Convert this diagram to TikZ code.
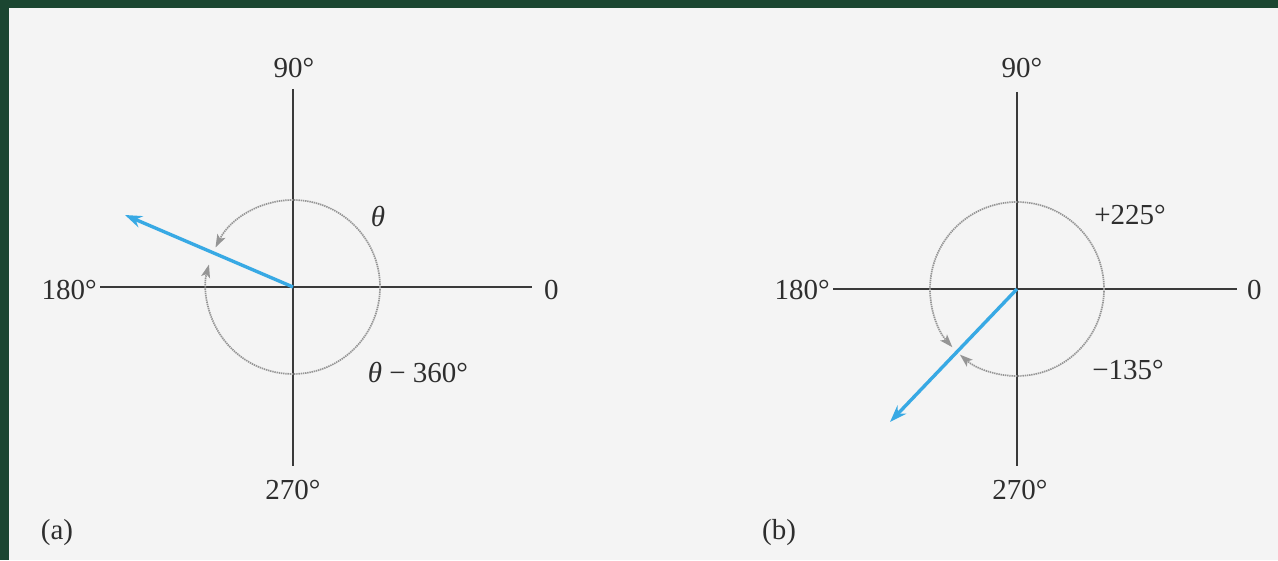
\documentclass[tikz,border=0pt]{standalone}
\usepackage{fontspec}
\setmainfont{Liberation Serif}
\usetikzlibrary{arrows.meta}
\definecolor{frame}{HTML}{1B4631}
\definecolor{paper}{HTML}{F4F4F4}
\definecolor{vec}{HTML}{38A9E4}
\definecolor{axiscol}{HTML}{3A3A3A}
\definecolor{arcg}{HTML}{959595}
\definecolor{txt}{HTML}{2E2E2E}
\tikzset{
  axisline/.style={draw=axiscol, line width=1.8pt},
  vecline/.style={draw=vec, line width=3.4pt, -{Stealth[length=17pt,width=12pt]}},
  arcline/.style={draw=arcg, line width=1.7pt, dash pattern=on 1.4pt off 0.8pt, -{Stealth[length=13pt,width=9pt,inset=3pt]}},
  lbl/.style={text=txt, inner sep=0pt, font=\fontsize{29}{32}\selectfont},
}
\begin{document}
\begin{tikzpicture}[x=1pt,y=1pt]
\useasboundingbox (0,0) rectangle (1278,560);
\fill[frame] (0,0) rectangle (1278,560);
\fill[paper] (9,0) rectangle (1278,552);

% ---------- panel (a) ----------
\coordinate (ca) at (293,273);
\coordinate (atop) at (293,471);
\coordinate (abot) at (293,94);
\coordinate (aleft) at (100,273);
\coordinate (aright) at (532,273);
\coordinate (avec) at (125,345);
\node[lbl, anchor=base] (a90) at (294,482) {90°};
\node[lbl, anchor=base] (a270) at (293,60) {270°};
\node[lbl, anchor=base east] (a180) at (97,260) {180°};
\node[lbl, anchor=base west] (a0) at (544,260) {0};
\node[lbl] (atheta) at (378,343) {\itshape θ};
\node[lbl] (athetam) at (418,187) {\itshape θ\upshape\ − 360°};
\node[lbl] (alab) at (57,27) {(a)};
\draw[axisline] (atop) -- (abot);
\draw[axisline] (aleft) -- (aright);
\draw[arcline] (ca) ++(0:87) arc[start angle=0, end angle=153, radius=87];
\draw[arcline] (ca) ++(0:87) arc[start angle=0, end angle=-195, radius=87];
\draw[vecline] (ca) -- (avec);

% ---------- panel (b) ----------
\coordinate (cb) at (1017,271);
\coordinate (btop) at (1017,468);
\coordinate (bbot) at (1017,94);
\coordinate (bleft) at (833,271);
\coordinate (bright) at (1237,271);
\coordinate (bvec) at (890,138);
\node[lbl, anchor=base] (b90) at (1022,482) {90°};
\node[lbl, anchor=base] (b270) at (1020,60) {270°};
\node[lbl, anchor=base east] (b180) at (830,260) {180°};
\node[lbl, anchor=base west] (b0) at (1247,260) {0};
\node[lbl] (bplus) at (1130,345) {+225°};
\node[lbl] (bminus) at (1128,190) {−135°};
\node[lbl] (blab) at (779,27) {(b)};
\draw[axisline] (btop) -- (bbot);
\draw[axisline] (bleft) -- (bright);
\draw[arcline] (cb) ++(0:87) arc[start angle=0, end angle=222, radius=87];
\draw[arcline] (cb) ++(0:87) arc[start angle=0, end angle=-131, radius=87];
\draw[vecline] (cb) -- (bvec);
\end{tikzpicture}
\end{document}
